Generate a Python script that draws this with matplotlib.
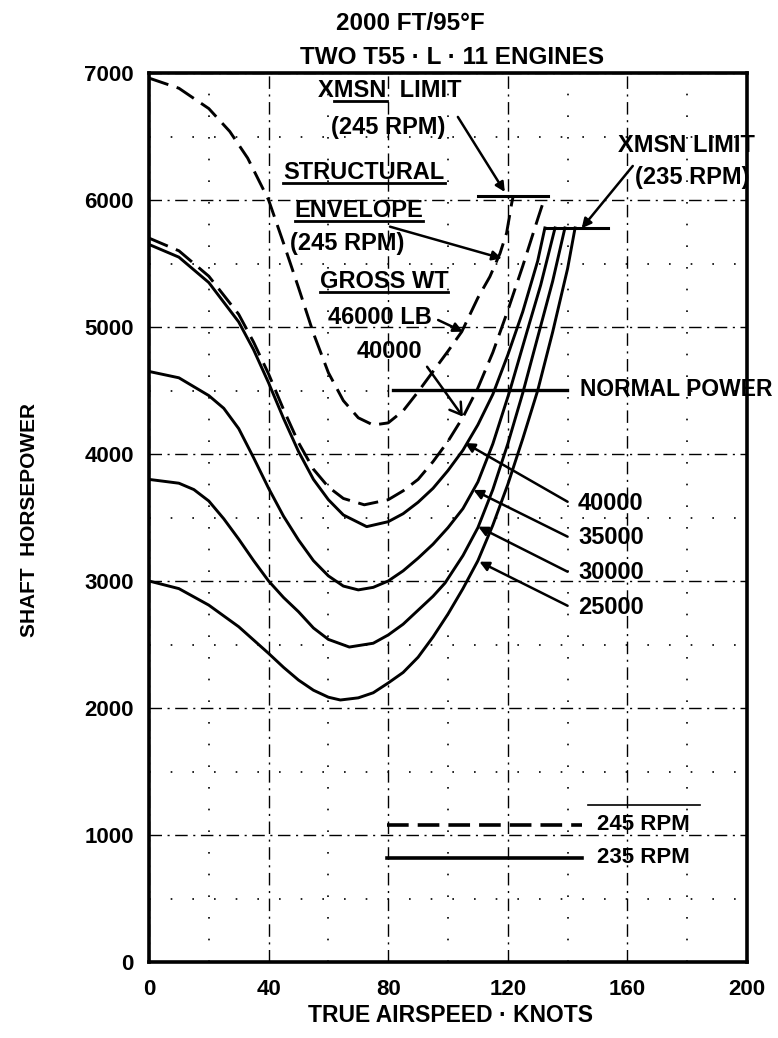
import matplotlib
matplotlib.use("Agg")
import matplotlib.pyplot as plt
from matplotlib.lines import Line2D

plt.rcParams['font.family'] = ['Liberation Sans', 'DejaVu Sans']
plt.rcParams['font.weight'] = 'bold'

# power required curves, 235 RPM (solid)
kts_25k = [0, 10, 20, 30, 40, 45, 50, 55, 60, 64, 70, 75, 80, 85, 90, 95, 100, 105, 110, 115, 120, 125, 130, 135, 140, 142.5]
shp_25k = [3000, 2940, 2810, 2640, 2430, 2320, 2220, 2140, 2085, 2063, 2080, 2120, 2197, 2280, 2400, 2560, 2740, 2940, 3160, 3440, 3760, 4120, 4500, 4960, 5460, 5780]

kts_30k = [0, 10, 15, 20, 25, 30, 35, 40, 45, 50, 55, 60, 67, 75, 80, 85, 90, 95, 99, 105, 110, 115, 120, 125, 130, 135, 139.1]
shp_30k = [3800, 3770, 3720, 3630, 3490, 3330, 3160, 3000, 2870, 2758, 2630, 2540, 2480, 2510, 2575, 2660, 2770, 2880, 2984, 3200, 3420, 3720, 4080, 4480, 4920, 5360, 5780]

kts_35k = [0, 10, 20, 25, 30, 35, 40, 45, 50, 55, 60, 65, 70, 75, 80, 85, 90, 95, 100, 105, 110, 115, 120.7, 126.5, 131, 135.8]
shp_35k = [4650, 4600, 4460, 4360, 4200, 3970, 3730, 3510, 3323, 3160, 3040, 2960, 2930, 2950, 3000, 3080, 3180, 3290, 3420, 3570, 3780, 4080, 4500, 4970, 5330, 5780]

kts_40k = [0, 10, 20, 30, 35, 40, 45, 50, 55, 60, 65, 72.8, 80, 85, 90, 95, 100, 105, 110, 115, 120, 125, 130, 132.4]
shp_40k = [5650, 5550, 5350, 5040, 4820, 4560, 4280, 4020, 3800, 3640, 3520, 3428, 3467, 3530, 3620, 3730, 3870, 4030, 4230, 4470, 4780, 5120, 5520, 5780]

# power required curves, 245 RPM (dashed)
kts_40k_245 = [0, 10, 20, 30, 35, 40, 45, 50, 55, 60, 65, 72, 80, 85, 90, 95, 100, 105, 110, 115, 120, 125, 130, 132.5]
shp_40k_245 = [5700, 5600, 5400, 5100, 4880, 4630, 4350, 4090, 3880, 3740, 3650, 3600, 3640, 3710, 3800, 3940, 4100, 4290, 4520, 4800, 5130, 5480, 5850, 6030]

kts_46k = [0, 10, 20, 27, 33, 40, 45, 50, 55, 60, 65, 70, 75, 80, 85, 90, 95, 100, 104.6, 110, 114, 117.4, 119.6, 121.3, 121.8]
shp_46k = [6960, 6880, 6720, 6540, 6330, 6000, 5660, 5310, 4950, 4640, 4420, 4285, 4228, 4245, 4340, 4490, 4650, 4810, 4963, 5230, 5396, 5580, 5740, 5974, 6030]

# limits
xmsn_245_kts = [110, 133.5]
xmsn_245_shp = 6030
xmsn_235_kts = [132.4, 153.5]
xmsn_235_shp = 5780
normal_power_kts = [81.6, 139.7]
normal_power_shp = 4504

weight_labels = ['40000', '35000', '30000', '25000']
weight_label_shp = [3614, 3339, 3063, 2795]
weight_tip_kts = [105.7, 108.5, 110.1, 110.5]
weight_tip_shp = [4087, 3717, 3428, 3152]

fig = plt.figure(figsize=(7.78, 10.38), dpi=100)
ax = fig.add_axes([149 / 778, 1 - 962 / 1038, 598 / 778, 889 / 1038])
ax.set_xlim(0, 200)
ax.set_ylim(0, 7000)

ax.set_xticks(range(0, 201, 40))
ax.set_yticks(range(0, 7001, 1000))
ax.set_xticks(range(20, 200, 40), minor=True)
ax.set_yticks(range(500, 7000, 1000), minor=True)
ax.tick_params(which='both', length=0)
ax.tick_params(axis='x', labelsize=16, pad=12)
ax.tick_params(axis='y', labelsize=16, pad=11)
for lab in ax.get_xticklabels() + ax.get_yticklabels():
    lab.set_fontweight('bold')

ax.grid(which='major', color='k', lw=1.0, linestyle=(0, (9, 4, 1.5, 4)))
ax.grid(which='minor', color='k', lw=1.2, linestyle=(0, (1, 12)))
for sp in ax.spines.values():
    sp.set_linewidth(2.6)

lw = 2.1
dash = (0, (7, 3))
ax.plot(kts_25k, shp_25k, color='k', lw=lw)
ax.plot(kts_30k, shp_30k, color='k', lw=lw)
ax.plot(kts_35k, shp_35k, color='k', lw=lw)
ax.plot(kts_40k, shp_40k, color='k', lw=lw)
ax.plot(kts_40k_245, shp_40k_245, color='k', lw=lw, linestyle=dash)
ax.plot(kts_46k, shp_46k, color='k', lw=lw, linestyle=dash)

ax.plot(xmsn_245_kts, [xmsn_245_shp] * 2, color='k', lw=2.2)
ax.plot(xmsn_235_kts, [xmsn_235_shp] * 2, color='k', lw=2.2)
ax.plot(normal_power_kts, [normal_power_shp] * 2, color='k', lw=2.4)

txt = dict(fontsize=17, fontweight='bold', clip_on=False)
arrow = dict(arrowstyle='-|>', color='k', lw=1.8, mutation_scale=14, shrinkA=0, shrinkB=0)

# labels and leaders
t_xmsn = ax.text(80.6, 6866, 'XMSN  LIMIT', ha='center', va='center', **txt)
ax.text(80, 6567, '(245 RPM)', ha='center', va='center', **txt)
ax.annotate('', xy=(119, 6063), xytext=(103.3, 6654), arrowprops=arrow)

t_struct = ax.text(71.9, 6213, 'STRUCTURAL', ha='center', va='center', **txt)
t_env = ax.text(70.2, 5921, 'ENVELOPE', ha='center', va='center', **txt)
ax.text(66.2, 5661, '(245 RPM)', ha='center', va='center', **txt)
ax.annotate('', xy=(118, 5540), xytext=(80.6, 5790), arrowprops=arrow)

t_gross = ax.text(78.6, 5357, 'GROSS WT', ha='center', va='center', **txt)
ax.text(77.1, 5071, '46000 LB', ha='center', va='center', **txt)
ax.annotate('', xy=(105, 4963), xytext=(96.7, 5055), arrowprops=arrow)
ax.text(80.4, 4806, '40000', ha='center', va='center', **txt)
ax.annotate('', xy=(105, 4294), xytext=(93, 4687),
            arrowprops=dict(arrowstyle='->,head_length=0.8,head_width=0.5', color='k', lw=1.8,
                            shrinkA=0, shrinkB=0))

ax.text(144, normal_power_shp, 'NORMAL POWER', ha='left', va='center',
        fontsize=16.5, fontweight='bold', clip_on=False)

ax.text(179.6, 6433, 'XMSN LIMIT', ha='center', va='center', **txt)
ax.text(181.8, 6181, '(235 RPM)', ha='center', va='center', **txt)
ax.annotate('', xy=(144.7, 5777), xytext=(161.8, 6268), arrowprops=arrow)

for name, y, tx, ty in zip(weight_labels, weight_label_shp, weight_tip_kts, weight_tip_shp):
    ax.text(143.5, y, name, ha='left', va='center', **txt)
    ax.annotate('', xy=(tx, ty), xytext=(140, y + 10), arrowprops=arrow)

# rotor speed key
ax.plot([79.5, 144.7], [1079, 1079], color='k', lw=2.6, linestyle=(0, (6, 2.5)))
ax.plot([79.5, 144.7], [819, 819], color='k', lw=2.6)
ax.plot([146.8, 184.3], [1236, 1236], color='k', lw=1.2)
ax.text(149.7, 1079, '245 RPM', ha='left', va='center', fontsize=16, fontweight='bold')
ax.text(149.7, 819, '235 RPM', ha='left', va='center', fontsize=16, fontweight='bold')

fig.text(410 / 778, 1 - 23 / 1038, '2000 FT/95°F', ha='center', va='center', fontsize=17.5, fontweight='bold')
fig.text(452 / 778, 1 - 58 / 1038, 'TWO T55 · L · 11 ENGINES', ha='center', va='center', fontsize=17.5,
         fontweight='bold')
fig.text(450 / 778, 1 - 1015 / 1038, 'TRUE AIRSPEED · KNOTS', ha='center', va='center', fontsize=16.5,
         fontweight='bold')
fig.text(30 / 778, 1 - 520 / 1038, 'SHAFT  HORSEPOWER', ha='center', va='center', rotation=90,
         fontsize=15, fontweight='bold')


def underline(t, first=0, last=None):
    fig.canvas.draw()
    r = fig.canvas.get_renderer()
    s = t.get_text()
    last = len(s) if last is None else last
    bb = t.get_window_extent(r)

    def width(sub):
        if not sub:
            return 0.0
        tmp = fig.text(0, 0, sub, fontproperties=t.get_fontproperties())
        w = tmp.get_window_extent(r).width
        tmp.remove()
        return w

    x0 = bb.x0 + width(s[:first])
    x1 = bb.x0 + width(s[:last])
    y = bb.y0 + 1
    inv = fig.transFigure.inverted()
    (fx0, fy), (fx1, _) = inv.transform([(x0, y), (x1, y)])
    fig.add_artist(Line2D([fx0, fx1], [fy, fy], color='k', lw=2.0))


underline(t_xmsn, 1, 4)
underline(t_struct)
underline(t_env)
underline(t_gross)

fig.savefig('out.png', dpi=100)
